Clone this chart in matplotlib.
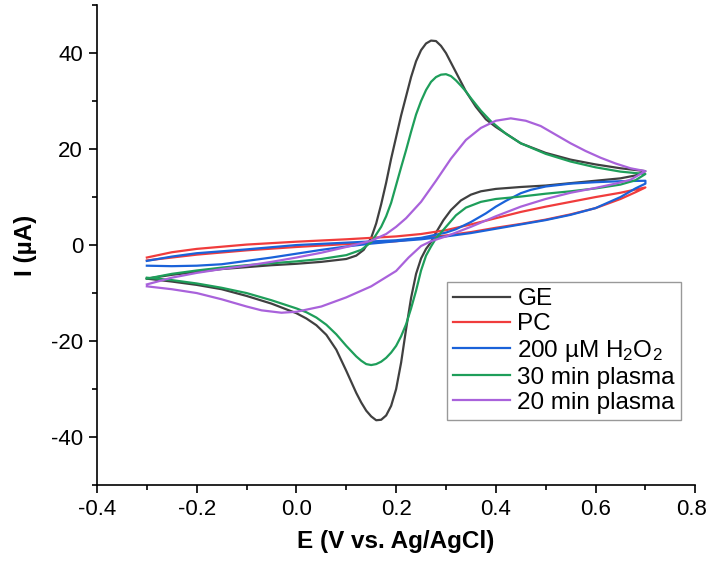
import numpy as np
import matplotlib
matplotlib.use("Agg")
import matplotlib.pyplot as plt
from matplotlib.ticker import MultipleLocator
from matplotlib.transforms import ScaledTranslation

plt.rcParams['font.family'] = ['Liberation Sans', 'DejaVu Sans']
plt.rcParams['mathtext.fontset'] = 'custom'
plt.rcParams['mathtext.rm'] = 'Liberation Sans'
plt.rcParams['mathtext.it'] = 'Liberation Sans:italic'

# CV loops: forward sweep -0.3 -> 0.7 V, then back
ge_e = [-0.30, -0.25, -0.20, -0.15, -0.10, -0.05, 0.00, 0.05, 0.10, 0.12, 0.135, 0.15, 0.16, 0.17,
        0.18, 0.19, 0.20, 0.21, 0.22, 0.23, 0.24, 0.25, 0.26, 0.27, 0.28, 0.29, 0.30, 0.31, 0.32,
        0.34, 0.36, 0.38, 0.40, 0.45, 0.50, 0.55, 0.60, 0.65, 0.70,
        0.68, 0.65, 0.60, 0.55, 0.50, 0.45, 0.40, 0.37, 0.35, 0.33, 0.31, 0.295, 0.28, 0.27,
        0.26, 0.25, 0.24, 0.23, 0.22, 0.21, 0.20, 0.19, 0.18, 0.17, 0.16, 0.15, 0.14, 0.13,
        0.12, 0.10, 0.08, 0.06, 0.04, 0.02, 0.00, -0.05, -0.10, -0.15, -0.20, -0.25, -0.30]
ge_i = [-7.0, -6.2, -5.6, -5.0, -4.6, -4.2, -3.9, -3.5, -2.9, -2.2, -1.0, 1.5, 4.5, 8.5,
        13.0, 18.0, 22.5, 27.0, 31.0, 35.0, 38.3, 40.6, 42.0, 42.6, 42.5, 41.5, 40.0, 38.0, 36.0,
        32.0, 28.8, 26.2, 24.6, 21.2, 19.2, 17.8, 16.8, 16.0, 15.4,
        14.5, 13.9, 13.4, 12.9, 12.4, 12.1, 11.7, 11.2, 10.5, 9.3, 7.3, 5.2, 2.6, 0.6,
        -0.8, -2.8, -6.0, -11.0, -17.5, -24.5, -30.0, -33.5, -35.5, -36.4, -36.5, -35.7, -34.5, -32.8,
        -30.8, -26.2, -21.8, -18.7, -16.7, -15.3, -14.2, -12.2, -10.6, -9.2, -8.3, -7.6, -7.0]

pc_e = [-0.30, -0.20, -0.10, 0.00, 0.10, 0.20, 0.25, 0.30, 0.35, 0.40, 0.45, 0.50, 0.55, 0.60,
        0.65, 0.68, 0.70,
        0.65, 0.60, 0.55, 0.50, 0.45, 0.40, 0.35, 0.30, 0.25, 0.20, 0.10, 0.00, -0.10, -0.20,
        -0.25, -0.30]
pc_i = [-3.2, -2.0, -1.1, -0.4, 0.2, 0.8, 1.4, 2.0, 2.7, 3.6, 4.4, 5.3, 6.4, 7.7,
        9.6, 11.0, 12.0,
        10.9, 10.0, 9.0, 8.0, 6.9, 5.6, 4.3, 3.1, 2.3, 1.8, 1.2, 0.7, 0.1, -0.8,
        -1.5, -2.6]

h2o2_e = [-0.30, -0.25, -0.20, -0.15, -0.10, -0.05, 0.00, 0.05, 0.10, 0.15, 0.20, 0.25, 0.30,
          0.35, 0.40, 0.45, 0.50, 0.55, 0.60, 0.65, 0.68, 0.70,
          0.70, 0.65, 0.60, 0.55, 0.50, 0.47, 0.45, 0.42, 0.40, 0.38, 0.35, 0.32, 0.30, 0.25,
          0.20, 0.10, 0.00, -0.10, -0.20, -0.25, -0.30]
h2o2_i = [-4.3, -4.4, -4.3, -4.0, -3.3, -2.6, -1.8, -1.0, -0.3, 0.3, 0.8, 1.2, 1.8,
          2.5, 3.4, 4.3, 5.2, 6.3, 7.7, 10.0, 11.8, 12.8,
          13.4, 13.3, 13.1, 12.8, 12.2, 11.5, 10.8, 9.2, 8.0, 6.6, 4.8, 3.3, 2.6, 1.5,
          1.0, 0.5, 0.0, -0.9, -1.7, -2.4, -3.3]

p30_e = [-0.30, -0.25, -0.20, -0.15, -0.10, -0.05, 0.00, 0.05, 0.10, 0.13, 0.15, 0.17, 0.18,
         0.19, 0.20, 0.21, 0.22, 0.23, 0.24, 0.25, 0.26, 0.27, 0.28, 0.29, 0.30, 0.31, 0.32,
         0.33, 0.34, 0.35, 0.37, 0.39, 0.42, 0.45, 0.50, 0.55, 0.60, 0.65, 0.70,
         0.68, 0.65, 0.60, 0.55, 0.50, 0.45, 0.40, 0.37, 0.34, 0.32, 0.30, 0.28, 0.27, 0.26,
         0.25, 0.24, 0.23, 0.22, 0.21, 0.20, 0.19, 0.18, 0.17, 0.16, 0.15, 0.14, 0.13, 0.12,
         0.10, 0.08, 0.06, 0.04, 0.02, 0.00, -0.05, -0.10, -0.15, -0.20, -0.25, -0.30]
p30_i = [-7.0, -6.0, -5.3, -4.7, -4.2, -3.8, -3.4, -2.9, -2.1, -1.0, 0.6, 3.8, 6.0,
         8.8, 12.5, 16.2, 19.8, 23.6, 27.2, 30.0, 32.3, 34.0, 35.0, 35.5, 35.6, 35.2, 34.3,
         33.2, 32.0, 30.6, 28.0, 25.8, 23.2, 21.2, 19.0, 17.4, 16.2, 15.3, 14.8,
         13.5, 12.6, 11.8, 11.2, 10.7, 10.1, 9.6, 9.0, 7.8, 6.2, 3.8, 1.4, -0.3, -2.2,
         -5.3, -9.5, -13.2, -16.5, -19.0, -21.0, -22.4, -23.5, -24.3, -24.8, -25.0, -24.8, -24.1, -23.2,
         -21.0, -18.6, -16.6, -15.1, -14.0, -13.2, -11.5, -10.0, -8.9, -8.0, -7.3, -6.8]

p20_e = [-0.30, -0.25, -0.20, -0.15, -0.10, -0.05, 0.00, 0.05, 0.10, 0.15, 0.18, 0.20, 0.22,
         0.25, 0.28, 0.31, 0.34, 0.37, 0.40, 0.43, 0.46, 0.49, 0.52, 0.55, 0.58, 0.61, 0.64,
         0.67, 0.70,
         0.67, 0.64, 0.60, 0.55, 0.50, 0.45, 0.40, 0.35, 0.30, 0.27, 0.25, 0.225, 0.20, 0.15,
         0.10, 0.05, 0.00, -0.03, -0.07, -0.10, -0.15, -0.20, -0.25, -0.30]
p20_i = [-8.2, -6.8, -5.8, -5.0, -4.3, -3.5, -2.6, -1.6, -0.4, 0.9, 2.3, 3.8, 5.6,
         9.0, 13.4, 18.0, 21.9, 24.4, 25.9, 26.4, 25.9, 24.8, 23.0, 21.2, 19.6, 18.2, 17.0,
         16.0, 15.4,
         13.6, 12.8, 11.9, 10.9, 9.6, 8.0, 6.0, 3.8, 1.8, 0.8, -0.2, -2.6, -5.4, -8.6,
         -10.9, -12.8, -13.9, -14.1, -13.6, -12.8, -11.3, -10.0, -9.2, -8.6]

labels = ['GE', 'PC', '200 µM H$_2$O$_2$', '30 min plasma', '20 min plasma']
colors = ['#404040', '#f03c3c', '#1a62d9', '#1e9e5a', '#a962db']

fig = plt.figure(figsize=(7.08, 5.64), dpi=100)
ax = fig.add_axes([0.137, 0.14, 0.845, 0.851])

series = [(ge_e, ge_i), (pc_e, pc_i), (h2o2_e, h2o2_i), (p30_e, p30_i), (p20_e, p20_i)]
for (e, i), lab, c in zip(series, labels, colors):
    ax.plot(e, i, color=c, lw=1.6, label=lab, solid_joinstyle='round')

ax.set_xlim(-0.4, 0.8)
ax.set_ylim(-50, 50)
ax.xaxis.set_minor_locator(MultipleLocator(0.1))
ax.yaxis.set_minor_locator(MultipleLocator(10))
ax.set_xticks(np.arange(-0.4, 0.81, 0.2))
ax.set_xticklabels(['-0.4', '-0.2', '0.0', '0.2', '0.4', '0.6', '0.8'])
ax.set_yticks([-40, -20, 0, 20, 40])
ax.set_yticklabels(['-40', '-20', '0', '20', '40'])

ax.spines['top'].set_visible(False)
ax.spines['right'].set_visible(False)
for s in ['left', 'bottom']:
    ax.spines[s].set_linewidth(1.2)
ax.tick_params(which='major', direction='out', length=6, width=1.2, labelsize=16, pad=4)
ax.tick_params(which='minor', direction='out', length=3.5, width=1.2)

# last x label sits right at the figure edge in the original
last = ax.get_xticklabels()[-1]
last.set_transform(last.get_transform() + ScaledTranslation(-4 / 100, 0, fig.dpi_scale_trans))

ax.set_xlabel('E (V vs. Ag/AgCl)', fontsize=17.5, fontweight='bold', labelpad=7)
ax.set_ylabel('I (µA)', fontsize=17.5, fontweight='bold', labelpad=10)

leg = ax.legend(loc='upper right', bbox_to_anchor=(0.976, 0.423), fontsize=17.5,
                frameon=True, fancybox=False, edgecolor='#999999', framealpha=1,
                handlelength=2.35, handletextpad=0.3, borderpad=0.25, labelspacing=0.12,
                borderaxespad=0)
leg.get_frame().set_linewidth(1.0)

fig.savefig('out.png', dpi=100)
